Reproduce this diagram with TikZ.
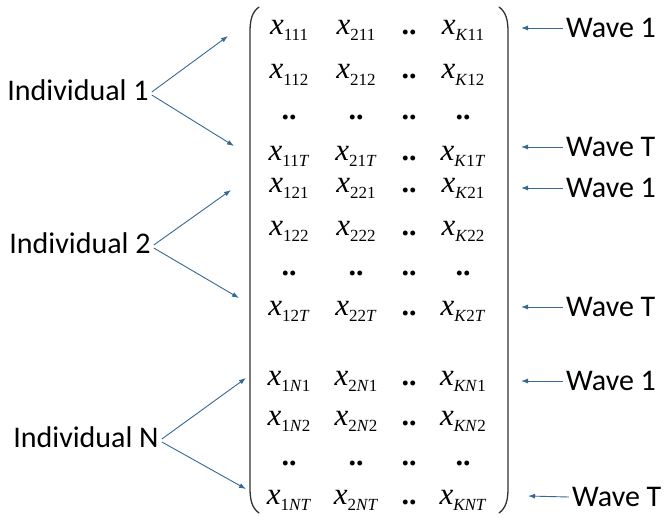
\documentclass[tikz,border=0pt]{standalone}
\usepackage{fontspec}
\setmainfont{Carlito}
\newfontfamily\tms{Liberation Serif}
\usetikzlibrary{arrows.meta}
\definecolor{arrc}{RGB}{52,104,150}
\newcommand{\xe}[1]{{\tms\fontsize{31}{31}\selectfont\itshape x}\raisebox{-6pt}{\tms\fontsize{17}{17}\selectfont #1}}
\newcommand{\ti}[1]{\textit{#1}}
\newcommand{\dd}{{\tms\fontsize{30}{30}\selectfont\bfseries ..}}
\tikzset{
  ent/.style={anchor=base, inner sep=0pt},
  lbl/.style={font=\fontsize{30}{35}\selectfont, inner sep=3pt},
  arr/.style={draw=arrc, line width=0.9pt, -{Latex[length=7pt,width=5pt]}},
  paren/.style={draw=black!80, line width=1.3pt, line cap=round}
}
\begin{document}
\begin{tikzpicture}[x=1pt,y=-1pt]
\useasboundingbox (0,0) rectangle (668,516);
% parentheses
\draw[paren] (259,7) .. controls (252,12) and (250,20) .. (250,32) -- (250,488) .. controls (250,500) and (252,508) .. (259,513);
\draw[paren] (499,7) .. controls (506,12) and (508,20) .. (508,32) -- (508,488) .. controls (508,500) and (506,508) .. (499,513);
% entries
\foreach \y/\a/\b/\c/\d/\n in {
  28/\xe{111}/\xe{211}/\dd/\xe{\ti{K}11}/1,
  72/\xe{112}/\xe{212}/\dd/\xe{\ti{K}12}/2,
  112/\dd/\dd/\dd/\dd/3,
  153/\xe{11\ti{T}}/\xe{21\ti{T}}/\dd/\xe{\ti{K}1\ti{T}}/4,
  185/\xe{121}/\xe{221}/\dd/\xe{\ti{K}21}/5,
  228/\xe{122}/\xe{222}/\dd/\xe{\ti{K}22}/6,
  268/\dd/\dd/\dd/\dd/7,
  308/\xe{12\ti{T}}/\xe{22\ti{T}}/\dd/\xe{\ti{K}2\ti{T}}/8,
  378/\xe{1\ti{N}1}/\xe{2\ti{N}1}/\dd/\xe{\ti{KN}1}/9,
  418/\xe{1\ti{N}2}/\xe{2\ti{N}2}/\dd/\xe{\ti{KN}2}/10,
  458/\dd/\dd/\dd/\dd/11,
  497/\xe{1\ti{NT}}/\xe{2\ti{NT}}/\dd/\xe{\ti{KNT}}/12}{
  \node[ent] (m\n-1) at (289,\y+7) {\a};
  \node[ent] (m\n-2) at (356,\y+7) {\b};
  \node[ent] (m\n-3) at (409,\y+7) {\c};
  \node[ent] (m\n-4) at (463,\y+7) {\d};
}
% individual labels
\node[lbl] (i1) at (78,90) {Individual 1};
\node[lbl] (i2) at (80,243) {Individual 2};
\node[lbl] (iN) at (86,437) {Individual N};
\coordinate (t1a) at (228,36);
\coordinate (t1b) at (234,146);
\coordinate (t2a) at (231,190);
\coordinate (t2b) at (239,298);
\coordinate (tNa) at (246,378);
\coordinate (tNb) at (246,489);
\draw[arr] ([yshift=-2pt]i1.east) -- (t1a);
\draw[arr] ([yshift=-5pt]i1.east) -- (t1b);
\draw[arr] ([yshift=-2pt]i2.east) -- (t2a);
\draw[arr] ([yshift=-5pt]i2.east) -- (t2b);
\draw[arr] ([yshift=-2pt]iN.east) -- (tNa);
\draw[arr] ([yshift=-5pt]iN.east) -- (tNb);
% wave labels
\node[lbl, anchor=west] (w1) at (563,28) {Wave 1};
\node[lbl, anchor=west] (w2) at (563,147) {Wave T};
\node[lbl, anchor=west] (w3) at (563,188) {Wave 1};
\node[lbl, anchor=west] (w4) at (563,307) {Wave T};
\node[lbl, anchor=west] (w5) at (563,381) {Wave 1};
\node[lbl, anchor=west] (w6) at (569,497) {Wave T};
\coordinate (v1) at (521,28);
\coordinate (v2) at (521,147);
\coordinate (v3) at (521,188);
\coordinate (v4) at (521,307);
\coordinate (v5) at (521,381);
\coordinate (v6) at (528,496);
\foreach \k in {1,...,6} \draw[arr] (w\k.west) -- (v\k);
\end{tikzpicture}
\end{document}
